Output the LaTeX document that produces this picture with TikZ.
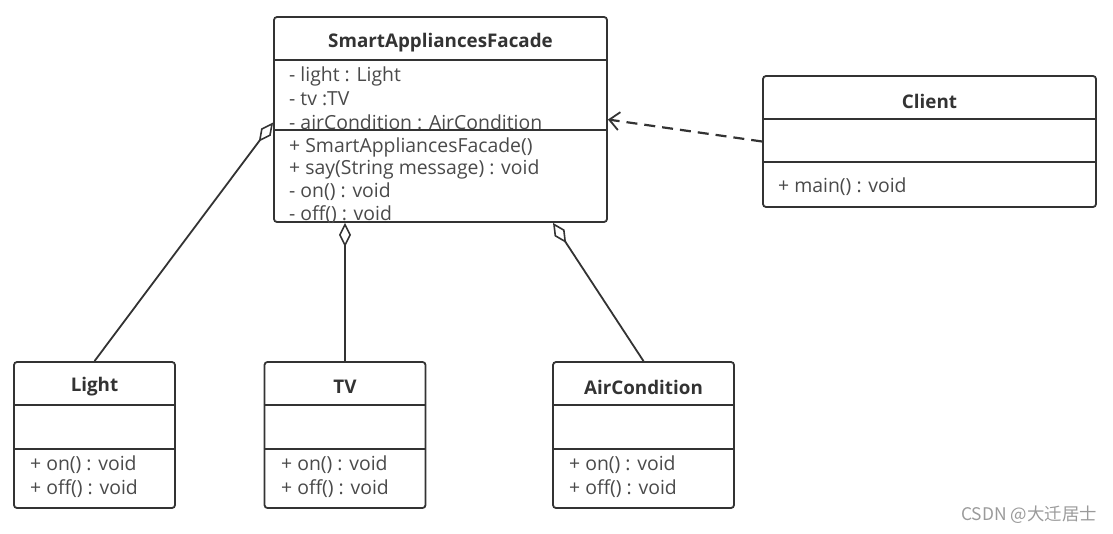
\documentclass[tikz,border=0pt]{standalone}
\usepackage{fontspec}
\setmainfont{Open Sans}[BoldFont={Open Sans Bold}]
\newfontfamily\cjkfont{Noto Sans CJK SC}
\usetikzlibrary{arrows.meta}

\definecolor{linegray}{HTML}{333333}
\definecolor{textgray}{HTML}{4A4A4A}
\definecolor{markgray}{HTML}{9A9A9A}

\tikzset{
  classbox/.style={draw=linegray, line width=1.8pt, rounded corners=3pt, fill=white, inner sep=0pt},
  title/.style={font=\fontsize{18.8}{22}\selectfont\bfseries, text=linegray, inner sep=0pt},
  member/.style={font=\fontsize{19.4}{22}\selectfont, text=textgray, anchor=west, inner sep=0pt},
  divider/.style={draw=linegray, line width=1.8pt},
  link/.style={draw=linegray, line width=1.8pt},
  aggr/.style={-{Diamond[open, length=24pt, width=12pt, line width=1.6pt]}}
}

\begin{document}
\begin{tikzpicture}[x=1pt,y=-1pt]
\useasboundingbox (0,0) rectangle (1113,533);

% class boxes
\node[classbox, minimum width=333pt, minimum height=205pt] (facade) at (440.5,119.5) {};
\node[classbox, minimum width=333pt, minimum height=131pt] (client) at (929.5,141.5) {};
\node[classbox, minimum width=161pt, minimum height=146pt] (light) at (94.5,435) {};
\node[classbox, minimum width=161pt, minimum height=146pt] (tv) at (345,435) {};
\node[classbox, minimum width=181pt, minimum height=146pt] (aircon) at (643.5,435) {};

% compartments
\draw[divider] ([yshift=-44pt]facade.north west) -- ([yshift=-44pt]facade.north east);
\draw[divider] ([yshift=-114pt]facade.north west) -- ([yshift=-114pt]facade.north east);
\draw[divider] ([yshift=-44pt]client.north west) -- ([yshift=-44pt]client.north east);
\draw[divider] ([yshift=-87pt]client.north west) -- ([yshift=-87pt]client.north east);
\foreach \n in {light,tv,aircon}{
  \draw[divider] ([yshift=-44pt]\n.north west) -- ([yshift=-44pt]\n.north east);
  \draw[divider] ([yshift=-88pt]\n.north west) -- ([yshift=-88pt]\n.north east);
}

% titles
\node[title] (facadetitle) at (440.5,43) {SmartAppliancesFacade};
\node[title] (clienttitle) at (929.5,101) {Client};
\node[title] (lighttitle) at (94.5,387) {Light};
\node[title] (tvtitle) at (345,387) {TV};
\node[title] (aircontitle) at (643.5,387) {AirCondition};

% members
\node[member] (f1) at (289,76) {- light : Light};
\node[member] (f2) at (289,99) {- tv :TV};
\node[member] (f3) at (289,122) {- airCondition : AirCondition};
\node[member] (f4) at (289,147) {+ SmartAppliancesFacade()};
\node[member] (f5) at (289,169) {+ say(String message) : void};
\node[member] (f6) at (289,192) {- on() : void};
\node[member] (f7) at (289,215) {- off() : void};
\node[member] (c1) at (778,187) {+ main() : void};

\foreach \n/\x in {light/30,tv/281,aircon/569}{
  \node[member] (\n on) at (\x,465) {+ on() : void};
  \node[member] (\n off) at (\x,489) {+ off() : void};
}

% relations
\draw[link, aggr] (light.north) -- ([yshift=-3pt]facade.west);
\draw[link, aggr] (tv.north) -- (tv.north |- facade.south);
\draw[link, aggr] (aircon.north) -- ([xshift=112.5pt]facade.south);
\draw[link, line width=2.2pt, dash pattern=on 11pt off 7pt, -{Straight Barb[length=10pt, width=18pt, line width=1.8pt]}] (client.west) -- (facade.east);

\node[font=\cjkfont\fontsize{17.4}{20}\selectfont, text=markgray, anchor=east, inner sep=0pt] (mark) at (1097,515) {CSDN @大迁居士};

\end{tikzpicture}
\end{document}
